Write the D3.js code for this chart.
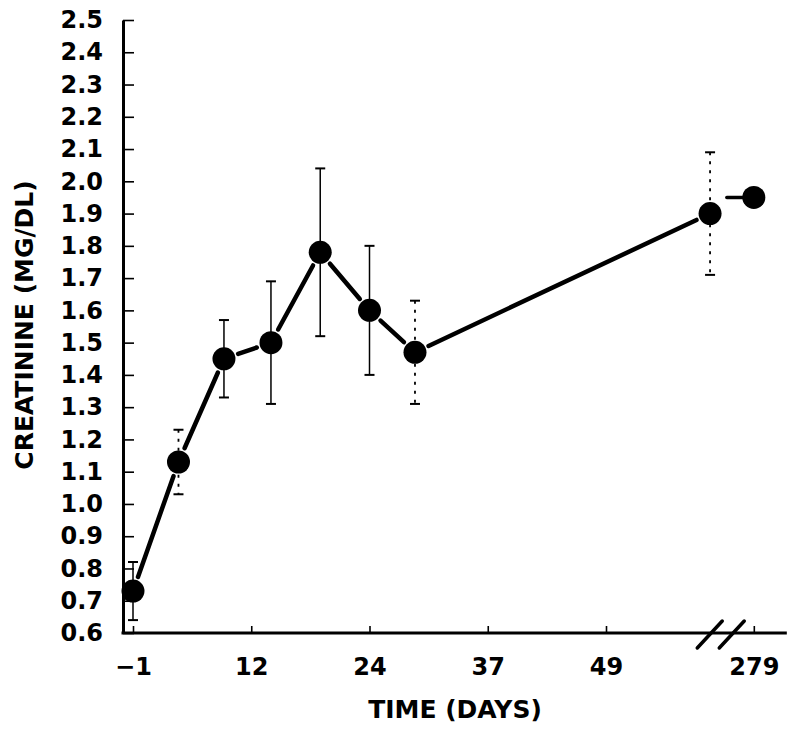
<!DOCTYPE html>
<html>
<head>
<meta charset="utf-8">
<script src="https://cdn.jsdelivr.net/npm/d3@7"></script>
<style>
  html, body { margin: 0; padding: 0; background: #fff; }
  svg { display: block; }
  text { font-family: "DejaVu Sans", sans-serif; font-weight: bold; fill: #000; }
</style>
</head>
<body>
<svg id="chart" width="800" height="734"></svg>
<script>
// ---- data ----
const days       = [-1, 4, 9, 14, 19, 24, 29, 60, 279];
const creatinine = [0.73, 1.13, 1.45, 1.50, 1.78, 1.60, 1.47, 1.90, 1.95];
const errHigh    = [0.82, 1.23, 1.57, 1.69, 2.04, 1.80, 1.63, 2.09, null];
const errLow     = [0.64, 1.03, 1.33, 1.31, 1.52, 1.40, 1.31, 1.71, null];
const xTickDays  = [-1, 12, 24, 37, 49, 279];
const yTickValues = [0.6, 0.7, 0.8, 0.9, 1.0, 1.1, 1.2, 1.3, 1.4, 1.5, 1.6, 1.7, 1.8, 1.9, 2.0, 2.1, 2.2, 2.3, 2.4, 2.5];
const xTitle = "TIME (DAYS)";
const yTitle = "CREATININE (MG/DL)";

// ---- layout ----
const svg = d3.select("#chart");
const yAxisX = 123, xAxisY = 633, yTop = 20;
const x0 = 133, step = 118.25;
const breakDay = 61.5;

const x = d3.scaleLinear()
  .domain([-1, 12, 24, 37, 49, breakDay, 279])
  .range([0, 1, 2, 3, 4, 5, 5.25].map(i => x0 + i * step));
const y = d3.scaleLinear().domain([0.6, 2.5]).range([xAxisY, yTop]);

const pts = days.map((d, i) => ({
  day: d, v: creatinine[i], hi: errHigh[i], lo: errLow[i], i
}));

// ---- y axis ----
const yAxis = d3.axisLeft(y)
  .tickValues(yTickValues)
  .tickFormat(d3.format(".1f"))
  .tickSizeInner(-11)
  .tickSizeOuter(0)
  .tickPadding(20);
const gy = svg.append("g").attr("transform", `translate(${yAxisX},0)`).call(yAxis);
gy.select(".domain").attr("stroke", "#000").attr("stroke-width", 3);
gy.selectAll(".tick line").attr("stroke", "#000").attr("stroke-width", 1.6);
gy.selectAll(".tick text").style("font-size", "24px").attr("font-family", null);

// ---- x axis ----
const xAxis = d3.axisBottom(x)
  .tickValues(xTickDays)
  .tickFormat(d3.format("d"))
  .tickSizeInner(-7)
  .tickSizeOuter(0)
  .tickPadding(25);
const gx = svg.append("g").attr("transform", `translate(0,${xAxisY})`).call(xAxis);
gx.select(".domain").remove();
gx.selectAll(".tick line").attr("stroke", "#000").attr("stroke-width", 1.6);
gx.selectAll(".tick text").style("font-size", "24px").attr("font-family", null);

// x axis line (extends past last tick)
svg.append("line")
  .attr("x1", yAxisX - 1.5).attr("x2", x(279) + 33)
  .attr("y1", xAxisY).attr("y2", xAxisY)
  .attr("stroke", "#000").attr("stroke-width", 3);

// break marks
const bx = x(breakDay);
[-14.5, 7.5].forEach(off => {
  svg.append("line")
    .attr("x1", bx + off - 12.5).attr("y1", xAxisY + 15)
    .attr("x2", bx + off + 12.5).attr("y2", xAxisY - 12)
    .attr("stroke", "#000").attr("stroke-width", 3.5)
    .attr("stroke-linecap", "round");
});

// ---- titles ----
svg.append("text")
  .attr("x", 455).attr("y", 718)
  .attr("text-anchor", "middle")
  .style("font-size", "25px")
  .text(xTitle);
svg.append("text")
  .attr("transform", "translate(33,325) rotate(-90)")
  .attr("text-anchor", "middle")
  .style("font-size", "25px")
  .text(yTitle);

// ---- error bars ----
const dashedIdx = new Set([1, 6, 7]);
const eb = svg.append("g");
pts.filter(p => p.hi != null).forEach(p => {
  const cx = x(p.day);
  eb.append("line")
    .attr("x1", cx).attr("x2", cx)
    .attr("y1", y(p.hi)).attr("y2", y(p.lo))
    .attr("stroke", "#000")
    .attr("stroke-width", dashedIdx.has(p.i) ? 1.8 : 1.5)
    .attr("stroke-dasharray", dashedIdx.has(p.i) ? "3,6" : null);
  [p.hi, p.lo].forEach(v => {
    eb.append("line")
      .attr("x1", cx - 5).attr("x2", cx + 5)
      .attr("y1", y(v)).attr("y2", y(v))
      .attr("stroke", "#000").attr("stroke-width", 2);
  });
});

// ---- connecting line segments (with small gaps at markers) ----
const r = 11.5, gap = 15;
const segs = svg.append("g");
for (let i = 0; i < 7; i++) {
  const a = pts[i], b = pts[i + 1];
  const ax = x(a.day), ay = y(a.v), bxp = x(b.day), by = y(b.v);
  const dx = bxp - ax, dy = by - ay, L = Math.hypot(dx, dy);
  const ux = dx / L, uy = dy / L;
  segs.append("line")
    .attr("x1", ax + ux * gap).attr("y1", ay + uy * gap)
    .attr("x2", bxp - ux * gap).attr("y2", by - uy * gap)
    .attr("stroke", "#000").attr("stroke-width", 4.5)
    .attr("stroke-linecap", "round");
}
// short stub leading into the last (post-break) point
const last = pts[pts.length - 1];
segs.append("line")
  .attr("x1", x(last.day) - 27).attr("x2", x(last.day) - 8)
  .attr("y1", y(last.v)).attr("y2", y(last.v))
  .attr("stroke", "#000").attr("stroke-width", 3.5)
  .attr("stroke-linecap", "round");

// ---- markers ----
svg.append("g").selectAll("circle")
  .data(pts)
  .join("circle")
  .attr("cx", d => x(d.day))
  .attr("cy", d => y(d.v))
  .attr("r", r)
  .attr("fill", "#000");
</script>
</body>
</html>
